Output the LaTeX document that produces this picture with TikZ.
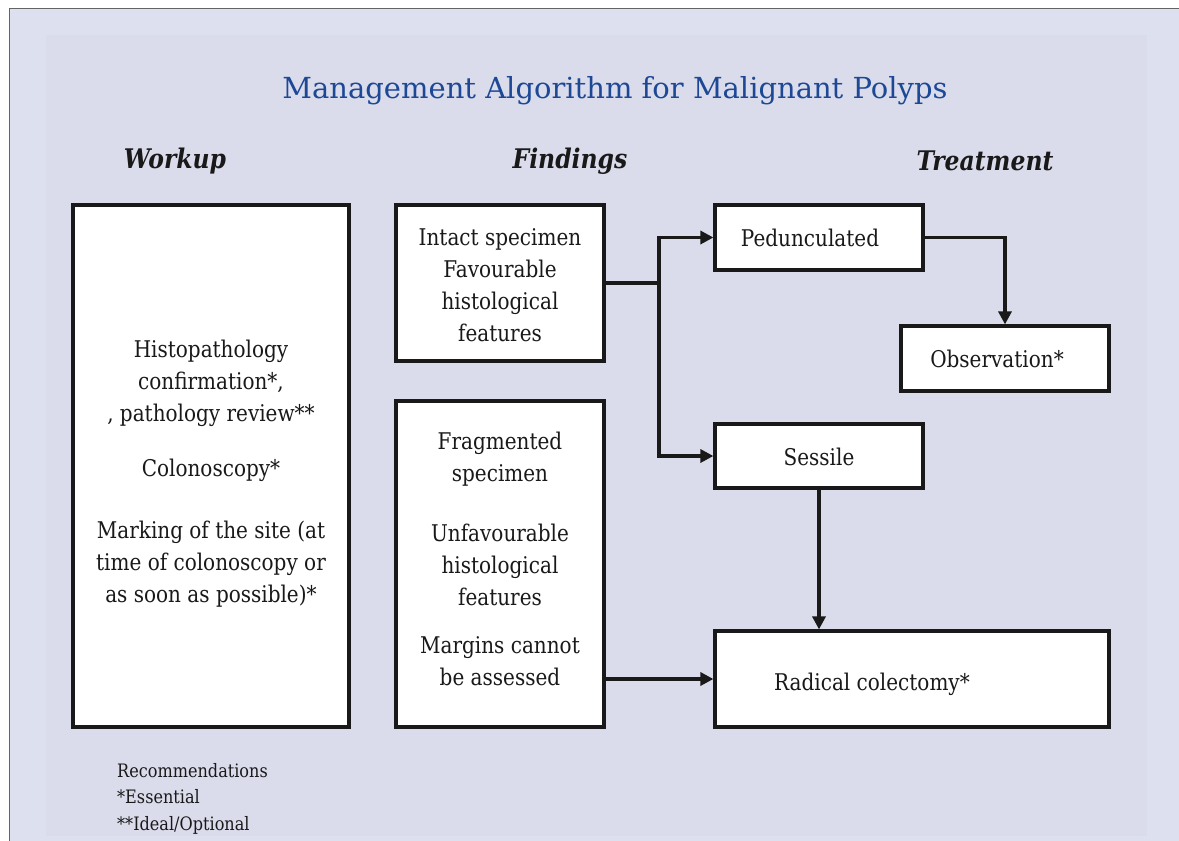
\documentclass[tikz,border=0pt]{standalone}
\usepackage{fontspec}
\setmainfont{DejaVu Serif}[FakeStretch=0.87]
\newfontfamily\titlefont{DejaVu Serif}
\usetikzlibrary{arrows.meta}

\definecolor{pagebg}{RGB}{221,224,239}
\definecolor{panelbg}{RGB}{218,220,235}
\definecolor{frameline}{RGB}{100,100,100}
\definecolor{titleblue}{RGB}{28,72,150}
\definecolor{ink}{RGB}{25,25,25}

\tikzset{
  box/.style={draw=ink, line width=3.2pt, fill=white, inner sep=0pt},
  boxtext/.style={align=center, text=ink, inner sep=0pt,
    font=\fontsize{23}{32}\selectfont},
  link/.style={draw=ink, line width=3.2pt},
  flow/.style={link, -{Triangle[length=13pt,width=13pt]}},
  colhead/.style={font=\fontsize{27}{30}\selectfont\bfseries\itshape, text=ink},
}

\begin{document}
\begin{tikzpicture}[x=1pt,y=-1pt]
\useasboundingbox (0,0) rectangle (1179,841);

% page background, frame and inner panel
\fill[white] (0,0) rectangle (1179,841);
\fill[pagebg] (10,9) rectangle (1179,841);
\fill[panelbg] (46,35) rectangle (1147,836);
\draw[frameline, line width=1.6pt] (9.5,841) -- (9.5,8.5) -- (1179,8.5);

% title and column headings
\node[font=\titlefont\fontsize{29}{32}\selectfont, text=titleblue] (title) at (615,91)
  {Management Algorithm for Malignant Polyps};
\node[colhead] (hwork) at (175,161) {Workup};
\node[colhead] (hfind) at (570,161) {Findings};
\node[colhead] (htreat) at (985,161) {Treatment};

% workup
\node[box, minimum width=276pt, minimum height=522pt] (work) at (211,466) {};
\node[boxtext] (worktext) at (211,474)
  {Histopathology\\ confirmation*,\\ , pathology review**\\[23pt]
   Colonoscopy*\\[30pt]
   Marking of the site (at\\ time of colonoscopy or\\ as soon as possible)*};

% findings
\node[box, minimum width=208pt, minimum height=156pt] (fav) at (500,283) {};
\node[boxtext] (favtext) at (500,285)
  {Intact specimen\\ Favourable\\ histological\\ features};
\node[box, minimum width=208pt, minimum height=326pt] (unfav) at (500,564) {};
\node[boxtext] (unfavtext) at (500,559)
  {Fragmented\\ specimen\\[28pt]
   Unfavourable\\ histological\\ features\\[16pt]
   Margins cannot\\ be assessed};

% treatment
\node[box, minimum width=208pt, minimum height=65pt] (ped) at (819,237.5) {};
\node[boxtext] (pedtext) at (810,238) {Pedunculated};
\node[box, minimum width=208pt, minimum height=65pt] (obs) at (1005,358.5) {};
\node[boxtext] (obstext) at (997,359) {Observation*};
\node[box, minimum width=208pt, minimum height=64pt] (ses) at (819,456) {};
\node[boxtext] (sestext) at (819,457) {Sessile};
\node[box, minimum width=394pt, minimum height=96pt] (rad) at (912,679) {};
\node[boxtext] (radtext) at (872,684) {Radical colectomy*};

% connectors
\coordinate (split) at (659,283);
\draw[link] (fav.east) -- (split);
\draw[flow] (split) |- (ped.west);
\draw[flow] (split) |- (ses.west);
\draw[flow] (ped.east) -| (obs.north);
\draw[flow] (ses.south) -- (ses.south |- rad.north);
\draw[flow] (unfav.east |- rad.west) -- (rad.west);

% key
\node[anchor=north west, align=left, inner sep=0pt, text=ink,
      font=\fontsize{18.5}{26.5}\selectfont] (key) at (117,763)
  {Recommendations\\ *Essential\\ **Ideal/Optional};
\end{tikzpicture}
\end{document}
